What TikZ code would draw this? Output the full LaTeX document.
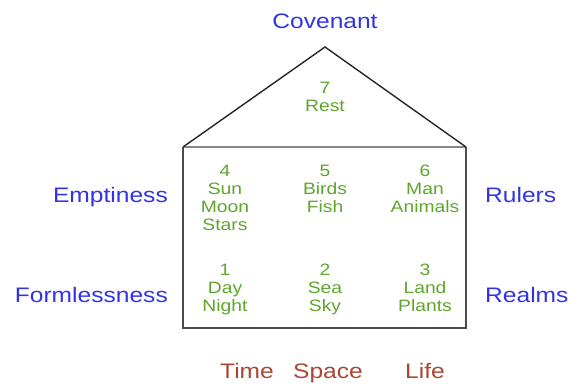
\documentclass[tikz,border=0pt]{standalone}
\usepackage{fontspec}
\usepackage{xcolor}
\usepackage{tikz}

\newfontfamily\housefont{Liberation Sans}[FakeStretch=1.17]
\newcommand\themefont{\housefont\fontsize{21}{24}\selectfont}
\newcommand\dayfont{\housefont\fontsize{16.5}{18}\selectfont}

\definecolor{themeblue}{RGB}{51,51,230}
\definecolor{daygreen}{RGB}{95,165,45}
\definecolor{axisred}{RGB}{170,70,50}
\definecolor{wallgray}{RGB}{75,75,75}
\definecolor{beamgray}{RGB}{135,135,135}

\begin{document}
\begin{tikzpicture}[
  x=1pt, y=-1pt,
  theme/.style={font=\themefont, text=themeblue, inner sep=0pt, anchor=base},
  axis/.style={font=\themefont, text=axisred, inner sep=0pt, anchor=base},
  day/.style={font=\dayfont, text=daygreen, align=center, inner sep=0pt, anchor=north},
  roof/.style={draw=black!85, line width=1.4pt, line join=miter},
  wall/.style={draw=wallgray, line width=2.2pt},
  beam/.style={draw=beamgray, line width=2.4pt}
]
\useasboundingbox (0,0) rectangle (569,385);

% house outline
\coordinate (apex) at (325,47);
\coordinate (eaveL) at (183,147);
\coordinate (eaveR) at (466,147);
\coordinate (floorL) at (183,328);
\coordinate (floorR) at (466,328);
\draw[beam] (eaveL) -- (eaveR);
\draw[wall] (eaveL) -- (floorL) -- (floorR) -- (eaveR);
\draw[roof] (eaveL) -- (apex) -- (eaveR);

% days
\node[day] (seventh) at (325,82) {7\\Rest};
\node[day] (fourth) at (225,165) {4\\Sun\\Moon\\Stars};
\node[day] (fifth) at (325,165) {5\\Birds\\Fish};
\node[day] (sixth) at (425,165) {6\\Man\\Animals};
\node[day] (first) at (225,264) {1\\Day\\Night};
\node[day] (second) at (325,264) {2\\Sea\\Sky};
\node[day] (third) at (425,264) {3\\Land\\Plants};

% labels
\node[theme] (covenant) at (325,29) {Covenant};
\node[theme, anchor=base east] (emptiness) at (168,202) {Emptiness};
\node[theme, anchor=base west] (rulers) at (485,202) {Rulers};
\node[theme, anchor=base east] (formless) at (168,302) {Formlessness};
\node[theme, anchor=base west] (realms) at (485,302) {Realms};
\node[axis] (time) at (247,378) {Time};
\node[axis] (space) at (328,378) {Space};
\node[axis] (life) at (425,378) {Life};
\end{tikzpicture}
\end{document}
